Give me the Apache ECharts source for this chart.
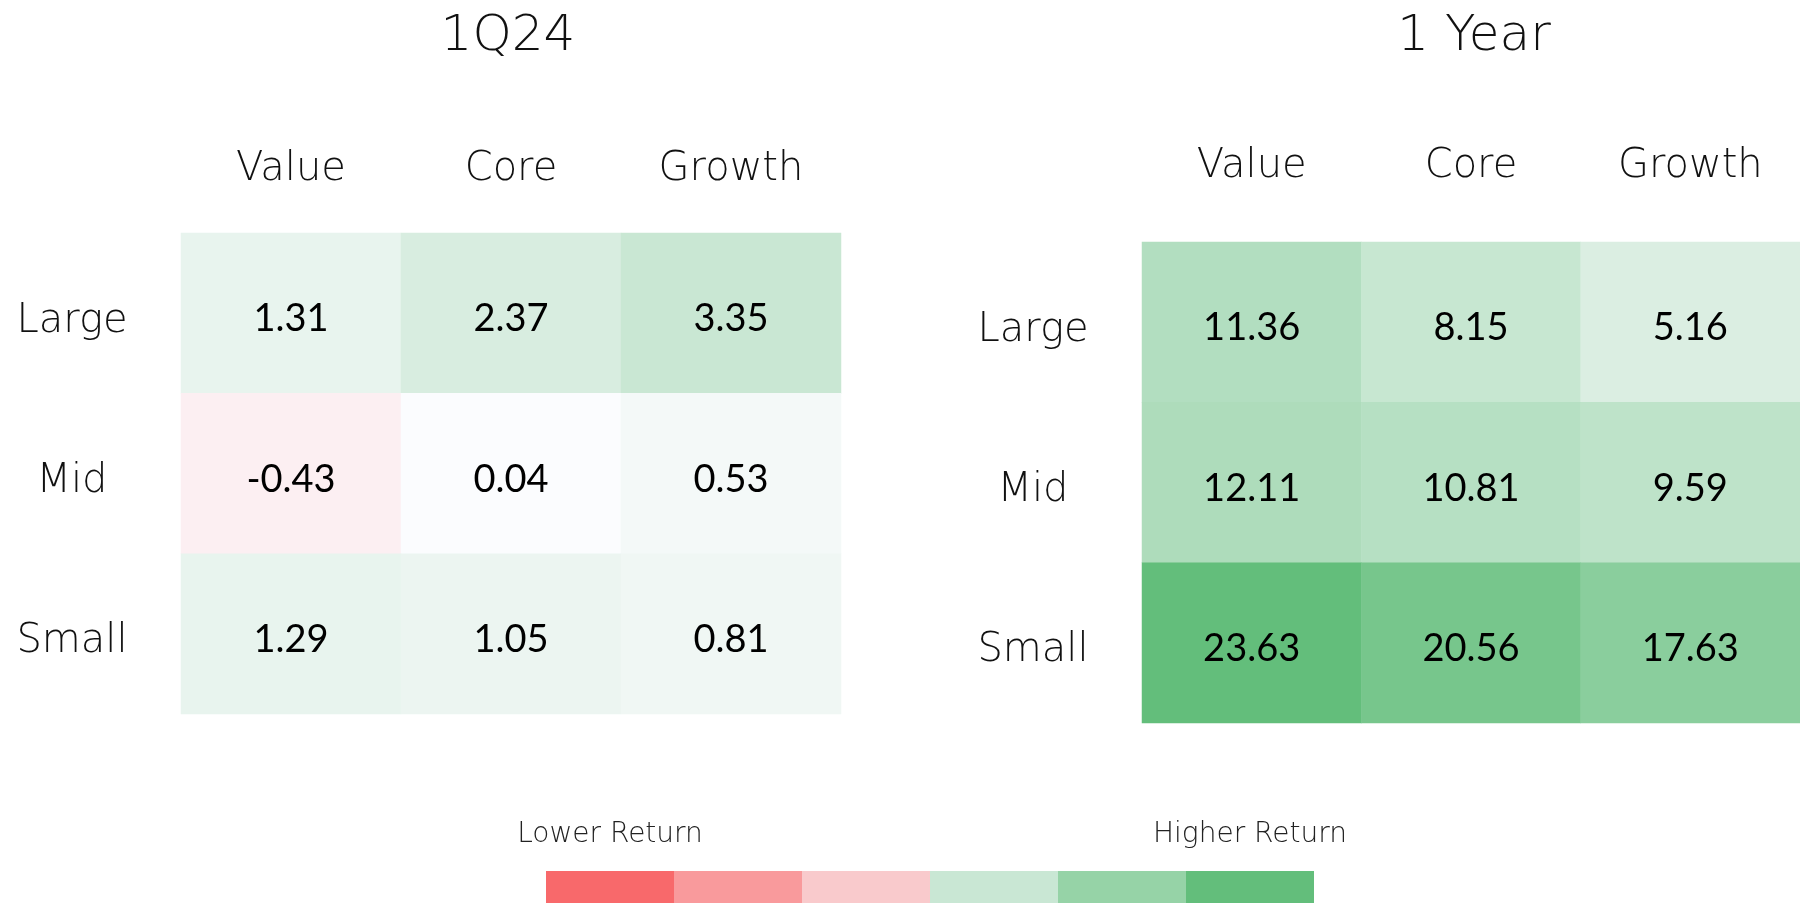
<!DOCTYPE html>
<html lang="en">
  <head>
    <meta charset="UTF-8" />
    <title>Style box returns</title>
    <script src="https://cdn.jsdelivr.net/npm/echarts@6/dist/echarts.min.js"></script>
  </head>
  <style>
    html,
    body {
      margin: 0;
      padding: 0;
      background: #fff;
    }
    #chart {
      width: 1800px;
      height: 903px;
    }
  </style>
  <body>
    <div id="chart"></div>
  </body>
  <script>
    const rowLabels = ["Large", "Mid", "Small"];
    const colLabels = ["Value", "Core", "Growth"];
    const quarterTitle = "1Q24";
    const yearTitle = "1 Year";
    // rows: Large, Mid, Small / cols: Value, Core, Growth
    const quarterReturns = [
      [1.31, 2.37, 3.35],
      [-0.43, 0.04, 0.53],
      [1.29, 1.05, 0.81],
    ];
    const yearReturns = [
      [11.36, 8.15, 5.16],
      [12.11, 10.81, 9.59],
      [23.63, 20.56, 17.63],
    ];
    const legendColors = ["#F8696B", "#F99A9C", "#F9CACC", "#C9E7D4", "#96D3A7", "#63BE7B"];
    const legendText = ["Lower Return", "Higher Return"];

    const labelFont = "DejaVu Sans";
    const numFont = "Lato";

    function toCells(table) {
      const out = [];
      table.forEach((row, r) => {
        row.forEach((v, c) => out.push([c, r, v]));
      });
      return out;
    }

    const chart = echarts.init(document.getElementById("chart"));

    function grid(left, top) {
      return { left: left, top: top, width: 660, height: 481 };
    }

    function xAxis(gridIndex, margin) {
      return {
        type: "category",
        gridIndex: gridIndex,
        position: "top",
        data: colLabels,
        axisLine: { show: false },
        axisTick: { show: false },
        splitArea: { show: false },
        axisLabel: {
          margin: margin,
          fontFamily: labelFont,
          fontWeight: 200,
          fontSize: 40,
          color: "#111",
          verticalAlign: "middle",
        },
      };
    }

    function yAxis(gridIndex) {
      return {
        type: "category",
        gridIndex: gridIndex,
        inverse: true,
        data: rowLabels,
        axisLine: { show: false },
        axisTick: { show: false },
        axisLabel: {
          margin: 109,
          align: "center",
          formatter: "{t|{value}}",
          rich: {
            t: {
              fontFamily: labelFont,
              fontWeight: 200,
              fontSize: 40,
              color: "#111",
              padding: [16, 0, 0, 0],
            },
          },
        },
      };
    }

    function series(idx, data) {
      return {
        type: "heatmap",
        xAxisIndex: idx,
        yAxisIndex: idx,
        data: toCells(data),
        label: {
          show: true,
          fontFamily: numFont,
          fontSize: 38,
          color: "#000",
          offset: [0, 6],
          formatter: (p) => p.value[2].toFixed(2),
        },
        emphasis: { disabled: true },
      };
    }

    const option = {
      animation: false,
      title: [
        {
          text: quarterTitle,
          left: 503,
          top: 7,
          textAlign: "center",
          textStyle: { fontFamily: labelFont, fontWeight: 200, fontSize: 50, color: "#111" },
        },
        {
          text: yearTitle,
          left: 1469,
          top: 7,
          textAlign: "center",
          textStyle: { fontFamily: labelFont, fontWeight: 200, fontSize: 50, color: "#111" },
        },
      ],
      grid: [grid(181, 233), grid(1142, 242)],
      xAxis: [xAxis(0, 63), xAxis(1, 75)],
      yAxis: [yAxis(0), yAxis(1)],
      visualMap: [
        {
          show: false,
          seriesIndex: 0,
          min: -5,
          max: 10,
          inRange: { color: ["#F8696B", "#FCFCFF", "#B0DDBD", "#63BE7B"] },
        },
        {
          show: false,
          seriesIndex: 1,
          min: 0,
          max: 23.63,
          inRange: { color: ["#FCFCFF", "#63BE7B"] },
        },
      ],
      series: [series(0, quarterReturns), series(1, yearReturns)],
      graphic: [],
    };

    // legend strip under the tables
    const barLeft = 546;
    const segW = 128;
    legendColors.forEach((c, i) => {
      option.graphic.push({
        type: "rect",
        left: barLeft + i * segW,
        top: 871,
        shape: { width: segW, height: 32 },
        style: { fill: c },
        silent: true,
      });
    });
    [0, legendColors.length - 1].forEach((i, k) => {
      option.graphic.push({
        type: "text",
        x: barLeft + i * segW + segW / 2,
        y: 835,
        style: {
          text: legendText[k],
          font: "200 28px " + labelFont,
          fill: "#222",
          textAlign: "center",
          textVerticalAlign: "middle",
        },
        silent: true,
      });
    });

    chart.setOption(option);
  </script>
</html>
